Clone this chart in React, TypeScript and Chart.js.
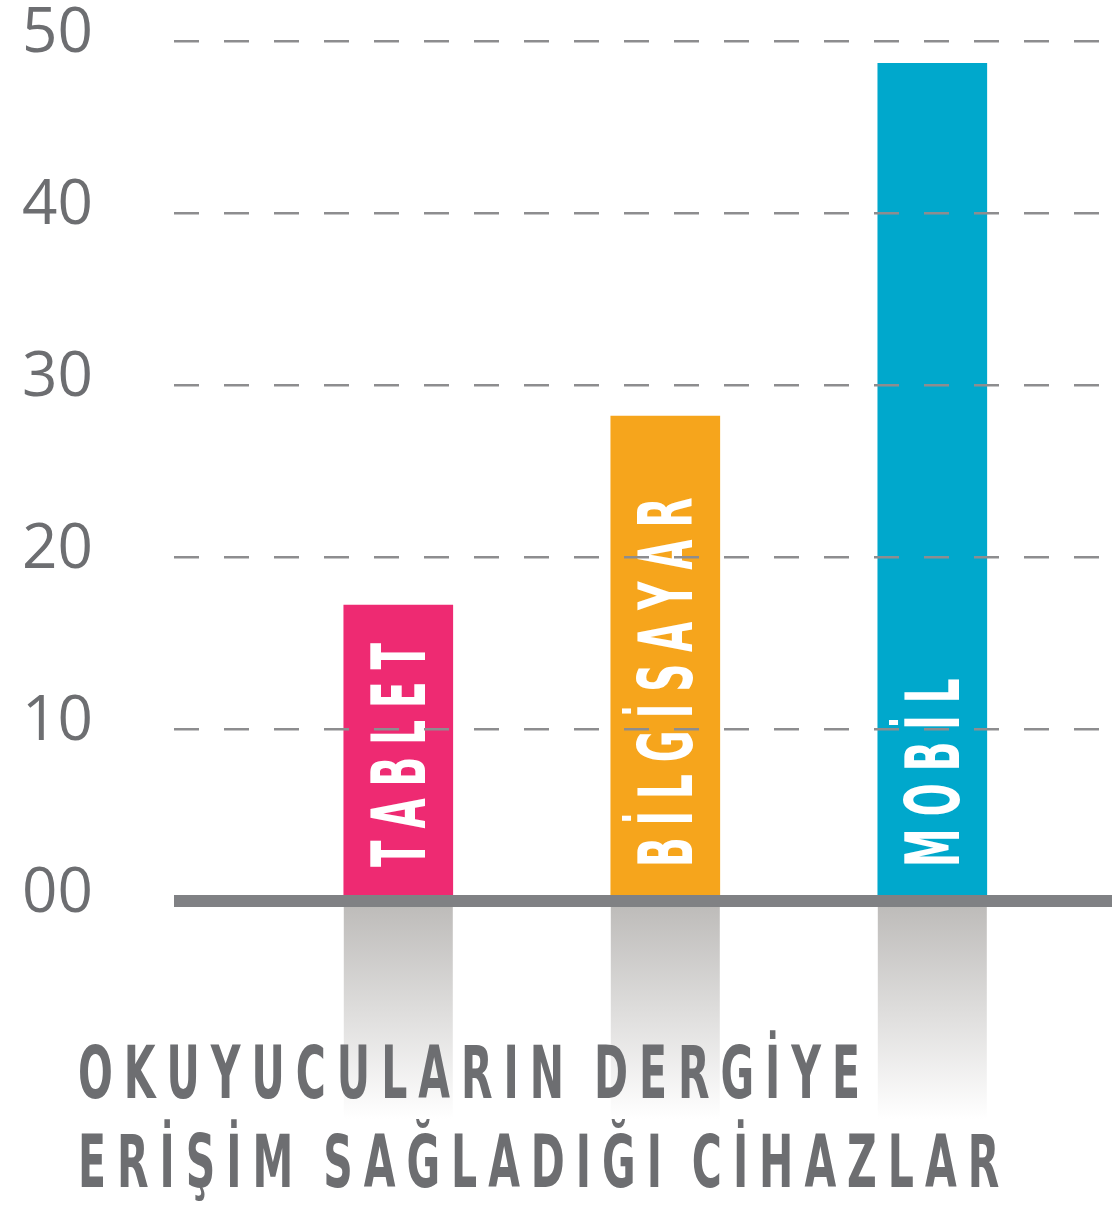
import React, { useEffect, useRef } from "react";
import { Chart, registerables } from "chart.js";

Chart.register(...registerables);

const CATEGORIES = ["TABLET", "BİLGİSAYAR", "MOBİL"];
const VALUES = [17.2, 28.2, 48.7];
const COLORS = ["#ee2a72", "#f6a51c", "#00a8cc"];
const TICK_VALUES = [0, 10, 20, 30, 40, 50];
const TICK_LABELS = ["00", "10", "20", "30", "40", "50"];
const TITLE_LINES = ["OKUYUCULARIN DERGİYE", "ERİŞİM SAĞLADIĞI CİHAZLAR"];

const W = 1112;
const H = 1206;
const TEXT_GRAY = "#6d6e71";
const CONDENSED = '"Liberation Sans Narrow", "DejaVu Sans Condensed", "Noto Sans", sans-serif';

function charAdvance(ctx: CanvasRenderingContext2D, ch: string) {
  const w = ctx.measureText(ch).width;
  return ch === " " ? w * 0.55 : w;
}

function sumWidth(ctx: CanvasRenderingContext2D, text: string) {
  let w = 0;
  for (const ch of Array.from(text)) w += charAdvance(ctx, ch);
  return w;
}

function drawSpaced(
  ctx: CanvasRenderingContext2D,
  text: string,
  x: number,
  y: number,
  s: number,
  spacing: number
) {
  ctx.save();
  ctx.translate(x, y);
  ctx.scale(s, 1);
  let cur = 0;
  for (const ch of Array.from(text)) {
    if (ch !== " ") ctx.fillText(ch, cur, 0);
    cur += charAdvance(ctx, ch) + spacing / s;
  }
  ctx.restore();
}

const reflectionPlugin = {
  id: "reflection",
  beforeDatasetsDraw(chart: any) {
    const ctx = chart.ctx as CanvasRenderingContext2D;
    const y0 = chart.scales.y.getPixelForValue(0) + 6;
    const meta = chart.getDatasetMeta(0);
    ctx.save();
    meta.data.forEach((el: any) => {
      const g = ctx.createLinearGradient(0, y0, 0, y0 + 212);
      g.addColorStop(0, "rgb(190,188,186)");
      g.addColorStop(1, "rgba(255,255,255,1)");
      ctx.fillStyle = g;
      ctx.fillRect(el.x - el.width / 2, y0, el.width, 212);
    });
    ctx.restore();
  },
};

const barLabelPlugin = {
  id: "barLabels",
  afterDatasetsDraw(chart: any) {
    const ctx = chart.ctx as CanvasRenderingContext2D;
    const zero = chart.scales.y.getPixelForValue(0);
    const meta = chart.getDatasetMeta(0);
    const fontSize = 74;
    const spacing = 12;
    ctx.save();
    ctx.font = `bold ${fontSize}px ${CONDENSED}`;
    ctx.fillStyle = "#ffffff";
    ctx.textBaseline = "alphabetic";
    ctx.textAlign = "left";
    const s = (224 - spacing * 5) / sumWidth(ctx, "TABLET");
    const cap = fontSize * 0.73;
    meta.data.forEach((el: any, i: number) => {
      ctx.save();
      ctx.translate(el.x, zero - 34);
      ctx.rotate(-Math.PI / 2);
      drawSpaced(ctx, CATEGORIES[i], 0, cap / 2, s, spacing);
      ctx.restore();
    });
    ctx.restore();
  },
};

const titlePlugin = {
  id: "bottomTitle",
  afterDraw(chart: any) {
    const ctx = chart.ctx as CanvasRenderingContext2D;
    const fontSize = 73;
    const spacing = 11;
    ctx.save();
    ctx.font = `bold ${fontSize}px ${CONDENSED}`;
    ctx.fillStyle = TEXT_GRAY;
    ctx.textBaseline = "alphabetic";
    ctx.textAlign = "left";
    const n0 = Array.from(TITLE_LINES[0]).length;
    const s = (782 - spacing * (n0 - 1)) / sumWidth(ctx, TITLE_LINES[0]);
    drawSpaced(ctx, TITLE_LINES[0], 78, 1098, s, spacing);
    drawSpaced(ctx, TITLE_LINES[1], 78, 1187, s, spacing);
    ctx.restore();
  },
};

export default function App() {
  const ref = useRef<HTMLCanvasElement | null>(null);

  useEffect(() => {
    document.body.style.margin = "0";
    const canvas = ref.current;
    if (!canvas) return;
    const chart = new Chart(canvas, {
      type: "bar",
      data: {
        labels: CATEGORIES,
        datasets: [
          {
            data: VALUES.map((v, i) => ({ x: i, y: v })) as any,
            backgroundColor: COLORS,
            borderWidth: 0,
            barThickness: 109,
          },
        ],
      },
      plugins: [reflectionPlugin, barLabelPlugin, titlePlugin],
      options: {
        responsive: false,
        animation: false,
        devicePixelRatio: 1,
        layout: { padding: { top: 41, bottom: H - 901, left: 0, right: 0 } },
        plugins: {
          legend: { display: false },
          tooltip: { enabled: false },
          title: { display: false },
        },
        scales: {
          x: {
            type: "linear",
            min: -0.84,
            max: 2.673,
            offset: false,
            display: false,
          },
          y: {
            min: 0,
            max: 50,
            afterFit: (scale: any) => {
              scale.width = 174;
            },
            ticks: {
              stepSize: 10,
              padding: 0,
              labelOffset: -7,
              color: TEXT_GRAY,
              font: { family: '"Open Sans", "Noto Sans", sans-serif', size: 62, weight: "normal" },
              callback: (v: any) => {
                const idx = TICK_VALUES.indexOf(Number(v));
                return idx >= 0 ? TICK_LABELS[idx] : "";
              },
            },
            grid: {
              z: 1,
              drawTicks: true,
              tickLength: 81,
              tickColor: "rgba(0,0,0,0)",
              color: (c: any) => (c.tick && c.tick.value === 0 ? "#808184" : "#8d8d8f"),
              lineWidth: (c: any) => (c.tick && c.tick.value === 0 ? 12 : 2.5),
            },
            border: {
              display: false,
              dash: (c: any) => (c.tick && c.tick.value === 0 ? [] : [25, 25]),
            },
          },
        },
      } as any,
    });
    return () => chart.destroy();
  }, []);

  return (
    <div style={{ width: W, height: H, background: "#ffffff" }}>
      <canvas ref={ref} width={W} height={H} style={{ display: "block", width: W, height: H }} />
    </div>
  );
}
